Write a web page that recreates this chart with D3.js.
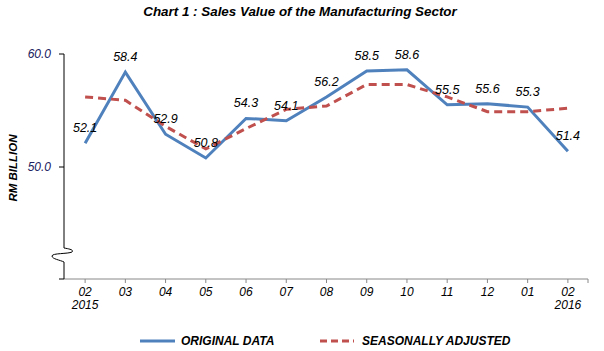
<!DOCTYPE html>
<html>
<head>
<meta charset="utf-8">
<script src="https://cdn.jsdelivr.net/npm/d3@7"></script>
<style>
  body { margin: 0; background: #fff; }
  svg { font-family: "Liberation Sans", Arial, sans-serif; }
</style>
</head>
<body>
<div id="chart"></div>
<script>
// data
const months = ["02", "03", "04", "05", "06", "07", "08", "09", "10", "11", "12", "01", "02"];
const years = ["2015", "", "", "", "", "", "", "", "", "", "", "", "2016"];
const original = [52.1, 58.4, 52.9, 50.8, 54.3, 54.1, 56.2, 58.5, 58.6, 55.5, 55.6, 55.3, 51.4];
const seasonal = [56.2, 55.9, 53.6, 51.6, 53.4, 55.1, 55.4, 57.3, 57.3, 56.2, 54.9, 54.9, 55.2];
const yTicks = [50, 60];

const width = 604, height = 351;

const svg = d3.select("#chart")
    .append("svg")
    .attr("width", width)
    .attr("height", height);

// Title
svg.append("text")
    .attr("x", 300)
    .attr("y", 16)
    .attr("text-anchor", "middle")
    .style("font-size", "13.4px")
    .style("font-weight", "bold")
    .style("font-style", "italic")
    .text("Chart 1 : Sales Value of the Manufacturing Sector");

const x = d3.scalePoint()
    .domain(d3.range(months.length))
    .range([65, 588])
    .padding(0.5);

const y = d3.scaleLinear()
    .domain([40, 60])
    .range([280, 54]);

// x axis
const xAxisY = 279;
svg.append("line")
    .attr("x1", 64).attr("x2", 588)
    .attr("y1", xAxisY).attr("y2", xAxisY)
    .attr("stroke", "#888");

const xTickPos = months.map((m, i) => x(i)).concat([588]);
svg.selectAll(".xtick")
    .data(xTickPos)
    .enter().append("line")
    .attr("class", "xtick")
    .attr("x1", d => d).attr("x2", d => d)
    .attr("y1", xAxisY).attr("y2", xAxisY + 4)
    .attr("stroke", "#888");

svg.selectAll(".xlab")
    .data(months)
    .enter().append("text")
    .attr("class", "xlab")
    .attr("x", (d, i) => x(i))
    .attr("y", 296)
    .attr("text-anchor", "middle")
    .style("font-size", "12px")
    .style("font-style", "italic")
    .text(d => d);

svg.selectAll(".yrlab")
    .data(years)
    .enter().append("text")
    .attr("class", "yrlab")
    .attr("x", (d, i) => x(i))
    .attr("y", 309)
    .attr("text-anchor", "middle")
    .style("font-size", "12px")
    .style("font-style", "italic")
    .text(d => d);

// y axis with break
svg.append("path")
    .attr("d", `M64,${y(60)} L64,248 C70,249 74,250 72,252 C68,254 52,253 52,256 C52,259 60,260 64,262 L64,${xAxisY}`)
    .attr("fill", "none")
    .attr("stroke", "#000")
    .attr("stroke-width", 1);

svg.selectAll(".ytick")
    .data(yTicks)
    .enter().append("line")
    .attr("x1", 59).attr("x2", 64)
    .attr("y1", d => y(d)).attr("y2", d => y(d))
    .attr("stroke", "#000");
svg.append("line")
    .attr("x1", 59).attr("x2", 64)
    .attr("y1", xAxisY).attr("y2", xAxisY)
    .attr("stroke", "#000");

svg.selectAll(".ytl")
    .data(yTicks)
    .enter().append("text")
    .attr("x", 51)
    .attr("y", d => y(d) + 4)
    .attr("text-anchor", "end")
    .style("font-size", "12px")
    .style("font-style", "italic")
    .style("fill", "#202060")
    .text(d => d.toFixed(1));

svg.append("text")
    .attr("transform", "translate(17,168) rotate(-90)")
    .attr("text-anchor", "middle")
    .style("font-size", "11.5px")
    .style("font-weight", "bold")
    .style("font-style", "italic")
    .text("RM BILLION");

// lines
const line = d3.line()
    .x((d, i) => x(i))
    .y(d => y(d));

svg.append("path")
    .datum(original)
    .attr("d", line)
    .attr("fill", "none")
    .attr("stroke", "#4F81BD")
    .attr("stroke-width", 3);

svg.append("path")
    .datum(seasonal)
    .attr("d", line)
    .attr("fill", "none")
    .attr("stroke", "#C0504D")
    .attr("stroke-width", 3)
    .attr("stroke-dasharray", "8,5");

// data labels
svg.selectAll(".dl")
    .data(original)
    .enter().append("text")
    .attr("x", (d, i) => x(i))
    .attr("y", d => y(d) - 11)
    .attr("text-anchor", "middle")
    .style("font-size", "12.5px")
    .style("font-style", "italic")
    .text(d => d.toFixed(1));

// legend
const legend = svg.append("g");
legend.append("line")
    .attr("x1", 140).attr("x2", 175)
    .attr("y1", 341).attr("y2", 341)
    .attr("stroke", "#4F81BD")
    .attr("stroke-width", 3);
legend.append("text")
    .attr("x", 181).attr("y", 345)
    .style("font-size", "12px")
    .style("font-weight", "bold")
    .style("font-style", "italic")
    .text("ORIGINAL DATA");
legend.append("line")
    .attr("x1", 320).attr("x2", 354)
    .attr("y1", 341).attr("y2", 341)
    .attr("stroke", "#C0504D")
    .attr("stroke-width", 3)
    .attr("stroke-dasharray", "7,4");
legend.append("text")
    .attr("x", 362).attr("y", 345)
    .style("font-size", "12px")
    .style("font-weight", "bold")
    .style("font-style", "italic")
    .text("SEASONALLY ADJUSTED");
</script>
</body>
</html>
